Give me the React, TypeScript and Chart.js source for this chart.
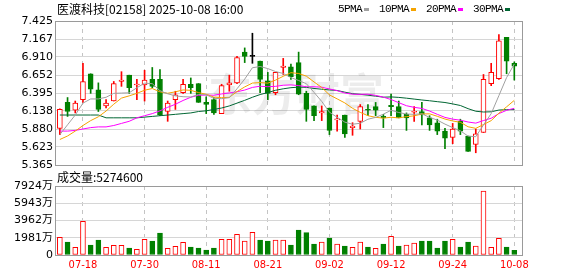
import React, { useEffect, useRef } from 'react';
import { Chart, registerables } from 'chart.js';

Chart.register(...registerables);

const stockTitle = '医渡科技[02158] 2025-10-08 16:00';
const volumeTitle = '成交量';
const watermarkText = '东方财富';

const dates = ['07-15','07-16','07-17','07-18','07-21','07-22','07-23','07-24','07-25','07-28','07-29','07-30','07-31','08-01','08-04','08-05','08-06','08-07','08-08','08-11','08-12','08-13','08-14','08-15','08-18','08-19','08-20','08-21','08-22','08-25','08-26','08-27','08-28','08-29','09-01','09-02','09-03','09-04','09-05','09-08','09-09','09-10','09-11','09-12','09-15','09-16','09-17','09-18','09-19','09-22','09-23','09-24','09-25','09-26','09-29','09-30','10-02','10-03','10-06','10-08'];

const opens = [5.89,6.26,6.15,6.30,6.67,6.44,6.21,6.28,6.56,6.65,6.51,6.51,6.59,6.59,6.13,6.30,6.40,6.52,6.53,6.26,6.30,6.10,6.51,6.54,6.98,6.92,6.85,6.57,6.40,6.76,6.77,6.83,6.39,6.21,6.11,6.18,6.01,6.08,5.90,5.99,6.16,6.20,6.06,6.22,6.20,6.09,6.12,6.13,6.04,5.97,5.85,5.76,5.99,5.78,5.66,5.83,6.53,6.60,7.19,6.82];
const highs = [6.17,6.33,6.28,6.82,6.67,6.54,6.30,6.56,6.70,6.65,6.59,6.72,6.76,6.73,6.28,6.42,6.59,6.61,6.53,6.34,6.33,6.52,6.65,6.92,7.04,7.25,6.85,6.69,6.69,6.89,6.81,6.98,6.42,6.21,6.21,6.18,6.08,6.08,5.97,6.23,6.23,6.26,6.09,6.38,6.28,6.11,6.20,6.26,6.07,6.02,5.89,5.96,6.02,5.78,5.88,6.66,6.82,7.23,7.19,6.84];
const lows = [5.80,6.06,6.11,6.26,6.39,6.13,6.18,6.28,6.49,6.39,6.30,6.28,6.47,6.07,5.99,6.16,6.39,6.39,6.26,6.10,6.09,6.10,6.42,6.53,6.83,6.82,6.40,6.30,6.37,6.66,6.59,6.37,5.99,6.00,6.00,5.80,5.85,5.76,5.79,5.88,6.07,6.07,5.90,6.07,6.04,5.86,5.99,5.94,5.86,5.80,5.60,5.67,5.80,5.56,5.54,5.83,6.50,6.59,6.67,6.58];
const closes = [6.16,6.13,6.25,6.56,6.45,6.16,6.25,6.53,6.58,6.47,6.52,6.58,6.49,6.08,6.25,6.37,6.52,6.47,6.26,6.23,6.11,6.50,6.54,6.90,6.92,6.92,6.59,6.39,6.69,6.78,6.63,6.38,6.16,6.07,6.13,5.86,6.02,5.81,5.92,6.20,6.15,6.15,6.04,6.20,6.04,6.04,6.13,6.08,5.94,5.85,5.75,5.88,5.85,5.56,5.81,6.59,6.69,7.14,6.85,6.78];
// volume in 万股
const volumes = [2029,1493,880,3866,1148,1723,880,1110,1110,804,651,1799,1608,2526,766,995,1455,919,804,574,804,1799,1799,2373,1608,2603,1723,1608,1723,1723,1148,2871,2565,1263,1493,1952,1263,1034,880,1493,919,766,1263,2144,1034,1148,1378,1608,1608,804,1608,1799,919,1493,1034,7350,880,1914,919,527.46];

const ma5 = [5.80,5.94,6.08,6.25,6.31,6.31,6.334,6.39,6.394,6.398,6.47,6.536,6.528,6.428,6.384,6.354,6.342,6.338,6.374,6.37,6.318,6.314,6.328,6.456,6.594,6.756,6.774,6.744,6.702,6.674,6.616,6.574,6.528,6.404,6.274,6.12,6.048,5.978,5.948,5.962,6.02,6.046,6.092,6.148,6.116,6.094,6.09,6.098,6.046,6.008,5.95,5.90,5.854,5.778,5.77,5.938,6.10,6.358,6.616,6.81];
const ma10 = [5.73,5.78,5.85,5.93,6.00,6.055,6.137,6.235,6.322,6.354,6.39,6.435,6.459,6.411,6.391,6.412,6.439,6.433,6.401,6.377,6.336,6.328,6.333,6.415,6.482,6.537,6.544,6.536,6.579,6.634,6.686,6.674,6.636,6.553,6.474,6.368,6.311,6.253,6.176,6.118,6.07,6.047,6.035,6.048,6.039,6.057,6.068,6.095,6.097,6.062,6.022,5.995,5.976,5.912,5.889,5.944,6.00,6.106,6.197,6.29];
const ma20 = [5.85,5.85,5.86,5.88,5.90,5.91,5.91,5.93,5.96,5.99,6.04,6.07,6.10,6.14,6.19,6.234,6.288,6.334,6.362,6.366,6.363,6.382,6.396,6.413,6.437,6.475,6.492,6.485,6.49,6.506,6.511,6.501,6.485,6.484,6.478,6.453,6.428,6.395,6.378,6.376,6.378,6.361,6.336,6.301,6.257,6.213,6.19,6.174,6.137,6.09,6.046,6.021,6.006,5.98,5.964,6.001,6.034,6.101,6.147,6.176];
const ma30 = [6.08,6.08,6.08,6.08,6.08,6.08,6.04,6.04,6.04,6.04,6.04,6.05,6.06,6.07,6.08,6.09,6.10,6.11,6.13,6.14,6.16,6.18,6.21,6.25,6.29,6.334,6.373,6.401,6.434,6.455,6.471,6.479,6.476,6.46,6.449,6.439,6.431,6.407,6.385,6.376,6.364,6.35,6.335,6.339,6.332,6.321,6.308,6.295,6.284,6.271,6.259,6.239,6.216,6.171,6.134,6.123,6.126,6.151,6.157,6.157];

const maLabels = ['5PMA', '10PMA', '20PMA', '30PMA'];
const priceTickLabels = ['5.365', '5.623', '5.880', '6.138', '6.395', '6.652', '6.910', '7.167', '7.425'];
const volumeTickValues = [0, 1981, 3962, 5943, 7924];
const volumeTickLabels = ['0', '1981万', '3962万', '5943万', '7924万'];
const xTickDates = ['07-18', '07-30', '08-11', '08-21', '09-02', '09-12', '09-24', '10-08'];

const RED = '#ff0000';
const GREEN = '#008000';
const MA_COLORS = ['#a0a0a0', '#f5a300', '#ff00ff', '#006633'];
const FRAME = '#9a9a9a';
const HGRID = '#d6d6d6';
const VGRID = '#c4c4c4';

const W = 578;
const H = 276;
const LEFT = 56;
const RIGHT_PAD = W - 522;

const xTickIdx = xTickDates.map((d) => dates.indexOf(d));
const n = dates.length;

const candleStroke = closes.map((c, i) => (c > opens[i] ? RED : c < opens[i] ? GREEN : '#000000'));
const candleFill = closes.map((c, i) => (c > opens[i] ? '#ffffff' : c < opens[i] ? GREEN : '#000000'));
const volUp = closes.map((c, i) => c >= (i > 0 ? closes[i - 1] : opens[i]));
const volStroke = volUp.map((u) => (u ? RED : GREEN));
const volFill = volUp.map((u) => (u ? '#ffffff' : GREEN));

const framePlugin = {
  id: 'frame',
  afterDatasetsDraw(chart: any) {
    const { ctx, chartArea: a } = chart;
    ctx.save();
    ctx.strokeStyle = FRAME;
    ctx.lineWidth = 1;
    ctx.strokeRect(a.left - 0.5, a.top + 0.5, a.right - a.left + 1, a.bottom - a.top);
    ctx.restore();
  },
};

const priceTextPlugin = {
  id: 'priceText',
  beforeDatasetsDraw(chart: any) {
    const { ctx } = chart;
    ctx.save();
    ctx.font = "bold 44px 'Noto Sans CJK SC'";
    ctx.fillStyle = 'rgba(0,0,0,0.075)';
    ctx.textBaseline = 'middle';
    ctx.textAlign = 'left';
    ctx.fillText(watermarkText, 208, 94);
    ctx.restore();
  },
  afterDraw(chart: any) {
    const { ctx } = chart;
    ctx.save();
    ctx.textBaseline = 'middle';
    ctx.textAlign = 'left';
    ctx.fillStyle = '#000';
    ctx.font = "12px 'Noto Sans CJK SC'";
    ctx.fillText(stockTitle, 57, 9);
    ctx.font = "11px 'Liberation Mono'";
    (ctx as any).letterSpacing = '-0.6px';
    let x = 338;
    maLabels.forEach((lab, i) => {
      ctx.fillStyle = '#000';
      ctx.fillText(lab, x, 9.5);
      const w = ctx.measureText(lab).width;
      ctx.fillStyle = MA_COLORS[i];
      ctx.fillRect(Math.round(x + w + 2), 8, 5, 3);
      x = Math.round(x + w + 2 + 5 + 10);
    });
    (ctx as any).letterSpacing = '0px';
    ctx.restore();
  },
};

const volumeTextPlugin = {
  id: 'volumeText',
  afterDraw(chart: any) {
    const { ctx } = chart;
    ctx.save();
    ctx.textBaseline = 'middle';
    ctx.textAlign = 'left';
    ctx.fillStyle = '#000';
    ctx.font = "12px 'Noto Sans CJK SC'";
    const last = Math.round(volumes[volumes.length - 1] * 10000);
    ctx.fillText(volumeTitle + ':' + last, 57, 177);
    ctx.restore();
  },
};

function xScale(showLabels: boolean) {
  return {
    type: 'linear',
    min: -0.5,
    max: n,
    offset: false,
    afterBuildTicks: (s: any) => {
      s.ticks = xTickIdx.map((v) => ({ value: v }));
    },
    afterFit: (s: any) => {
      s.height = showLabels ? 21 : 0;
    },
    grid: { color: VGRID, lineWidth: 1, drawTicks: false, offset: false },
    border: { display: false, dash: [4, 4] },
    ticks: {
      display: showLabels,
      autoSkip: false,
      maxRotation: 0,
      padding: 4,
      color: RED,
      font: { family: "'DejaVu Sans Condensed', 'DejaVu Sans'", size: 11 },
      callback: (v: number) => dates[v] ?? '',
    },
  };
}

const yLabelFont = { family: "'DejaVu Sans', 'Noto Sans CJK SC'", size: 11 };

export default function App() {
  const priceRef = useRef<HTMLCanvasElement>(null);
  const volRef = useRef<HTMLCanvasElement>(null);

  useEffect(() => {
    const priceChart = new Chart(priceRef.current as HTMLCanvasElement, {
      type: 'bar',
      data: {
        datasets: [
          ...[ma5, ma10, ma20, ma30].map((arr, k) => ({
            type: 'line' as const,
            label: maLabels[k],
            data: arr.map((v, i) => ({ x: i, y: v })),
            borderColor: MA_COLORS[k],
            borderWidth: 1,
            pointRadius: 0,
            tension: 0,
            order: 0,
          })),
          {
            type: 'bar' as const,
            label: 'body',
            data: opens.map((o, i) => ({ x: i, y: [o, closes[i]] })),
            backgroundColor: candleFill,
            borderColor: candleStroke,
            borderWidth: 1,
            borderSkipped: false,
            barThickness: 5,
            minBarLength: 1,
            grouped: false,
            order: 1,
          },
          {
            type: 'bar' as const,
            label: 'wick',
            data: lows.map((l, i) => ({ x: i, y: [l, highs[i]] })),
            backgroundColor: candleStroke,
            borderWidth: 0,
            barThickness: 1,
            grouped: false,
            order: 2,
          },
        ] as any,
      },
      options: {
        responsive: false,
        animation: false,
        devicePixelRatio: 1,
        layout: { padding: { left: 0, top: 21, right: RIGHT_PAD, bottom: H - 165 } },
        plugins: { legend: { display: false }, tooltip: { enabled: false }, title: { display: false } },
        scales: {
          x: xScale(false) as any,
          y: {
            type: 'linear',
            min: 5.365,
            max: 7.425,
            afterBuildTicks: (s: any) => {
              s.ticks = priceTickLabels.map((l) => ({ value: parseFloat(l) }));
            },
            afterFit: (s: any) => {
              s.width = LEFT;
            },
            grid: { color: HGRID, drawTicks: false },
            border: { display: false },
            ticks: {
              autoSkip: false,
              padding: 3,
              color: '#000',
              font: yLabelFont,
              callback: (_v: any, i: number) => priceTickLabels[i],
            },
          },
        },
      },
      plugins: [priceTextPlugin, framePlugin],
    });

    const volChart = new Chart(volRef.current as HTMLCanvasElement, {
      type: 'bar',
      data: {
        datasets: [
          {
            label: 'volume',
            data: volumes.map((v, i) => ({ x: i, y: v })),
            backgroundColor: volFill,
            borderColor: volStroke,
            borderWidth: 1,
            borderSkipped: false,
            barThickness: 5,
            grouped: false,
          },
        ] as any,
      },
      options: {
        responsive: false,
        animation: false,
        devicePixelRatio: 1,
        layout: { padding: { left: 0, top: 186, right: RIGHT_PAD, bottom: 0 } },
        plugins: { legend: { display: false }, tooltip: { enabled: false }, title: { display: false } },
        scales: {
          x: xScale(true) as any,
          y: {
            type: 'linear',
            min: 0,
            max: 7924,
            afterBuildTicks: (s: any) => {
              s.ticks = volumeTickValues.map((v) => ({ value: v }));
            },
            afterFit: (s: any) => {
              s.width = LEFT;
            },
            grid: { color: HGRID, drawTicks: false },
            border: { display: false },
            ticks: {
              autoSkip: false,
              padding: 3,
              color: '#000',
              font: yLabelFont,
              callback: (_v: any, i: number) => volumeTickLabels[i],
            },
          },
        },
      },
      plugins: [volumeTextPlugin, framePlugin],
    });

    return () => {
      priceChart.destroy();
      volChart.destroy();
    };
  }, []);

  return (
    <div style={{ position: 'fixed', left: 0, top: 0, width: W, height: H, background: '#fff' }}>
      <canvas ref={priceRef} width={W} height={H} style={{ position: 'absolute', left: 0, top: 0 }} />
      <canvas ref={volRef} width={W} height={H} style={{ position: 'absolute', left: 0, top: 0 }} />
    </div>
  );
}
